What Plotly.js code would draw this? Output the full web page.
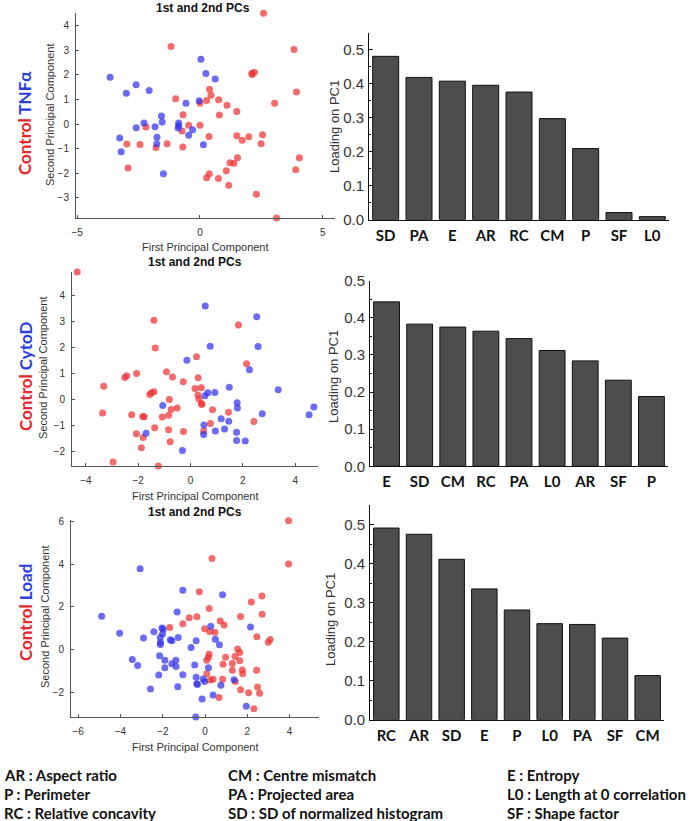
<!DOCTYPE html>
<html>
<head>
<meta charset="utf-8">
<script src="https://cdn.plot.ly/plotly-3.0.1.min.js"></script>
<style>html,body{margin:0;padding:0;background:#fff;}#chart{width:693px;height:821px;}</style>
</head>
<body>
<div id="chart"></div>
<script>
// ---------- Scatter data (PC1, PC2) ----------
// Panel 1: Control vs TNFα
const tnfCtrlX = [2.59,-1.18,3.83,2.11,2.22,2.13,3.93,0.39,0.45,-0.99,0.27,0.76,0.0,1.1,3.04,1.5,-0.69,0.79,-2.2,-0.46,0.0,-0.73,0.37,1.5,1.99,2.55,1.72,-2.98,-2.44,-1.34,-1.79,-0.7,2.49,4.05,1.53,1.22,1.38,1.07,3.9,-2.93,0.38,0.27,0.75,1.17,2.3,3.12];
const tnfCtrlY = [4.51,3.16,3.04,2.07,2.11,2.02,1.31,1.42,1.17,1.03,0.96,0.99,0.85,0.77,0.85,0.51,0.38,0.37,-0.12,-0.05,-0.05,-0.28,-0.5,-0.47,-0.51,-0.43,-0.66,-0.81,-0.83,-0.8,-0.95,-0.93,-0.8,-1.37,-1.37,-1.57,-1.59,-1.9,-1.86,-1.79,-2.02,-2.18,-2.21,-2.49,-2.85,-3.82];
const tnfX = [-3.66,-2.6,-3.0,-2.07,0.04,0.24,0.62,-0.03,-0.57,-1.57,-1.54,-2.28,-2.6,-1.83,-0.87,-0.87,-0.89,-0.3,-0.46,-3.27,-1.75,-1.76,0.14,-3.21,-1.49];
const tnfY = [1.91,1.6,1.26,1.37,2.64,2.06,1.84,0.95,0.85,0.33,0.09,0.04,-0.15,-0.11,0.04,-0.07,-0.16,-0.23,-0.45,-0.57,-0.53,-0.8,-0.84,-1.12,-2.02];

// Panel 2: Control vs CytoD
const cytoCtrlX = [-4.33,-1.4,-1.35,1.83,0.23,2.14,-2.06,-2.44,-2.51,-0.92,-0.69,0.29,-0.28,-3.32,0.17,0.41,-1.4,-1.49,-1.56,0.28,-0.81,0.32,0.42,0.43,-0.51,-0.74,0.84,1.45,-3.36,-2.25,-1.83,-1.77,-1.08,-0.84,0.76,2.42,-1.37,-0.84,-0.27,0.5,-2.07,-1.81,-0.78,-1.88,-2.96,-1.23];
const cytoCtrlY = [4.9,3.05,1.99,2.87,1.65,1.38,1.01,0.92,0.85,1.07,0.87,0.84,0.69,0.52,0.43,0.46,0.31,0.27,0.2,0.18,0.01,0.03,-0.14,-0.18,-0.32,-0.37,-0.38,-0.48,-0.51,-0.57,-0.64,-0.65,-0.66,-0.59,-0.91,-0.83,-1.07,-1.15,-1.22,-1.2,-1.3,-1.45,-1.61,-1.84,-2.39,-2.54];
const cytoX = [0.56,2.53,0.75,2.58,-0.14,2.25,3.35,1.48,0.66,0.93,0.55,-1.06,1.78,1.79,4.71,4.53,2.74,1.17,1.46,0.51,0.5,0.95,1.3,1.76,1.76,2.09,-1.7,-0.31];
const cytoY = [3.6,3.18,2.05,2.04,1.52,1.15,0.38,0.48,0.27,0.28,0.15,-0.22,-0.11,-0.32,-0.28,-0.57,-0.54,-0.73,-0.82,-0.97,-1.33,-1.2,-1.12,-1.25,-1.56,-1.58,-1.28,-1.95];

// Panel 3: Control vs Load
const loadCtrlX = [3.95,3.95,0.33,-0.27,2.69,2.19,0.2,2.7,1.68,-0.39,-0.75,0.72,-1.05,0.9,-1.67,-0.02,0.22,0.47,2.45,3.08,2.99,1.54,1.64,0.19,0.16,0.97,1.42,0.08,1.64,0.85,1.29,1.76,1.29,1.78,2.44,0.08,0.24,0.38,0.83,1.43,2.48,1.68,2.06,2.58,0.66,2.31];
const loadCtrlY = [6.04,4.01,4.27,2.7,2.5,2.22,1.92,1.65,1.54,1.53,1.48,1.33,1.2,1.14,1.03,0.97,0.84,0.8,0.59,0.47,0.34,0.02,-0.14,-0.23,-0.37,-0.37,-0.33,-0.51,-0.53,-0.69,-0.66,-0.97,-0.98,-1.14,-0.98,-1.14,-1.44,-1.4,-1.4,-1.51,-1.76,-1.89,-2.03,-2.06,-2.25,-2.78];
const loadX = [-3.07,-1.05,0.83,-4.89,-1.32,2.15,0.27,-2.04,-1.98,-4.04,-2.42,-2.91,-2.01,-2.12,-1.64,-1.57,-1.27,0.49,-2.11,-2.11,-0.42,0.68,-0.66,-2.15,-3.44,-1.9,-1.38,-1.57,-3.19,-1.9,-1.37,-0.49,0.16,-2.19,-1.05,-0.42,-0.09,-0.39,-0.36,-0.02,1.37,0.75,-1.29,-2.58,0.38,-0.14,1.95,-0.44];
const loadY = [3.78,2.78,2.56,1.56,1.76,1.05,1.09,1.0,0.95,0.76,0.83,0.53,0.72,0.56,0.45,0.41,0.56,0.48,0.33,0.23,0.41,0.22,0.09,-0.3,-0.47,-0.51,-0.51,-0.67,-0.75,-0.86,-0.8,-0.73,-0.86,-1.2,-1.19,-1.31,-1.39,-1.61,-1.65,-1.51,-1.42,-1.68,-1.75,-1.86,-2.14,-2.32,-2.67,-3.17];

// ---------- Bar data (loading on PC1) ----------
const bar1Labels = ["SD","PA","E","AR","RC","CM","P","SF","L0"];
const bar1Values = [0.480,0.418,0.407,0.395,0.375,0.297,0.209,0.021,0.009];
const bar2Labels = ["E","SD","CM","RC","PA","L0","AR","SF","P"];
const bar2Values = [0.443,0.383,0.375,0.364,0.344,0.312,0.284,0.232,0.188];
const bar3Labels = ["RC","AR","SD","E","P","L0","PA","SF","CM"];
const bar3Values = [0.491,0.475,0.411,0.335,0.281,0.246,0.244,0.209,0.113];

// ---------- Text ----------
const panelTitle = "1st and 2nd PCs";
const xTitle = "First Principal Component";
const yTitle = "Second Principal Component";
const barYTitle = "Loading on PC1";
const groupNames = ["TNFα","CytoD","Load"];
const legendCols = [
  ["AR : Aspect ratio","P : Perimeter","RC : Relative concavity"],
  ["CM : Centre mismatch","PA : Projected area","SD : SD of normalized histogram"],
  ["E : Entropy","L0 : Length at 0 correlation","SF : Shape factor"]
];

// ---------- helpers ----------
const W = 693, H = 821;
const dx = (a,b) => [a/W, b/W];
const dy = (t,b) => [1-b/H, 1-t/H];
const px = x => x/W;
const py = y => 1-y/H;

const RED = 'rgba(238,50,50,0.72)';
const BLUE = 'rgba(50,50,238,0.72)';
const sansAx = 'Liberation Sans, Arial, sans-serif';
const bodyFont = 'Lato, Open Sans, sans-serif';

function sc(x,y,color,xa,ya){
  return {type:'scatter',mode:'markers',x:x,y:y,xaxis:xa,yaxis:ya,
    marker:{color:color,size:7,line:{width:0}},cliponaxis:false,showlegend:false,hoverinfo:'skip'};
}
function br(lbl,val,xa,ya){
  return {type:'bar',x:lbl,y:val,xaxis:xa,yaxis:ya,
    marker:{color:'#4d4d4d',line:{color:'#111',width:1}},showlegend:false,hoverinfo:'skip'};
}

const data = [
  sc(tnfCtrlX,tnfCtrlY,RED,'x','y'), sc(tnfX,tnfY,BLUE,'x','y'),
  br(bar1Labels,bar1Values,'x2','y2'),
  sc(cytoCtrlX,cytoCtrlY,RED,'x3','y3'), sc(cytoX,cytoY,BLUE,'x3','y3'),
  br(bar2Labels,bar2Values,'x4','y4'),
  sc(loadCtrlX,loadCtrlY,RED,'x5','y5'), sc(loadX,loadY,BLUE,'x5','y5'),
  br(bar3Labels,bar3Values,'x6','y6')
];

function scX(dom,range,dtick,anchor){
  return {domain:dom,range:range,dtick:dtick,anchor:anchor,showgrid:false,zeroline:false,
    showline:true,linecolor:'#555',linewidth:1,ticks:'inside',ticklen:3,tickcolor:'#555',
    ticklabelstandoff:5,tickfont:{family:sansAx,size:10,color:'#333'},fixedrange:true};
}
function scY(dom,range,dtick,anchor){
  return {domain:dom,range:range,dtick:dtick,anchor:anchor,showgrid:false,zeroline:false,
    showline:true,linecolor:'#555',linewidth:1,ticks:'inside',ticklen:3,tickcolor:'#555',
    ticklabelstandoff:4,tickfont:{family:sansAx,size:10,color:'#333'},fixedrange:true};
}
function bX(dom,anchor){
  return {domain:dom,range:[-0.5,8.5],type:'category',anchor:anchor,showgrid:false,zeroline:false,
    showline:true,linecolor:'#111',linewidth:1,ticks:'',ticklabelstandoff:2,
    tickfont:{family:bodyFont,size:15,color:'#111',weight:'bold'},fixedrange:true};
}
function bY(dom,range,anchor){
  return {domain:dom,range:range,dtick:0.1,tickformat:'.1f',anchor:anchor,showgrid:false,zeroline:false,
    showline:true,linecolor:'#111',linewidth:1,ticks:'inside',ticklen:4,tickcolor:'#111',
    minor:{ticks:'inside',ticklen:2,dtick:0.05,tickcolor:'#111'},
    ticklabelstandoff:1,tickfont:{family:sansAx,size:15,color:'#333'},fixedrange:true};
}

const ann = [];
function txt(x,y,text,size,opts){
  ann.push(Object.assign({xref:'paper',yref:'paper',x:px(x),y:py(y),text:text,showarrow:false,
    xanchor:'center',yanchor:'middle',font:{family:sansAx,size:size,color:'#222'}},opts||{}));
}
// scatter panel texts
const scT = [[203,8],[195,262],[195,512]];
const scXT = [[205,247],[195,496],[195,747]];
const scYT = [[50,115],[43,368],[45,617]];
const grpT = [[25,123],[25,376],[25,612]];
const barYT = [[335,127],[333,377],[330,620]];
for(let i=0;i<3;i++){
  txt(scT[i][0],scT[i][1],'<b>'+panelTitle+'</b>',12,{font:{family:sansAx,size:12,color:'#111'}});
  txt(scXT[i][0],scXT[i][1],xTitle,11,{font:{family:sansAx,size:11,color:'#333'}});
  txt(scYT[i][0],scYT[i][1],yTitle,11,{textangle:-90,font:{family:sansAx,size:11,color:'#333'}});
  txt(grpT[i][0],grpT[i][1],'<b><span style="color:#e8262b">Control</span> <span style="color:#2a3fe0">'+groupNames[i]+'</span></b>',17,{textangle:-90,font:{family:bodyFont,size:17,color:'#e8262b'}});
  txt(barYT[i][0],barYT[i][1],barYTitle,13,{textangle:-90,font:{family:sansAx,size:13,color:'#333'}});
}
// legend of abbreviations
const colX = [2,226,505];
const rowY = [775,794,813];
for(let c=0;c<3;c++) for(let r=0;r<3;r++){
  txt(colX[c],rowY[r],'<b>'+legendCols[c][r]+'</b>',15,{xanchor:'left',font:{family:bodyFont,size:15,color:'#111'}});
}

const layout = {
  width:W,height:H,margin:{l:0,r:0,t:0,b:0},paper_bgcolor:'#fff',plot_bgcolor:'rgba(0,0,0,0)',
  showlegend:false,bargap:0.22,
  xaxis: scX(dx(76,335),[-5.05,5.5],5,'y'),
  yaxis: scY(dy(13,218),[-3.82,4.52],1,'x'),
  xaxis2: bX(dx(369,669),'y2'),
  yaxis2: bY(dy(32.5,219.7),[0,0.55],'x2'),
  xaxis3: scX(dx(72,318),[-4.53,4.87],2,'y3'),
  yaxis3: scY(dy(272,466),[-2.54,4.9],1,'x3'),
  xaxis4: bX(dx(370,668),'y4'),
  yaxis4: bY(dy(280.7,466.3),[0,0.5],'x4'),
  xaxis5: scX(dx(71,319),[-6.34,5.39],2,'y5'),
  yaxis5: scY(dy(520,717),[-3.17,6.07],2,'x5'),
  xaxis6: bX(dx(370,664),'y6'),
  yaxis6: bY(dy(505,719.7),[0,0.55],'x6'),
  annotations: ann
};

Plotly.newPlot('chart',data,layout,{staticPlot:true,displayModeBar:false});
</script>
</body>
</html>
